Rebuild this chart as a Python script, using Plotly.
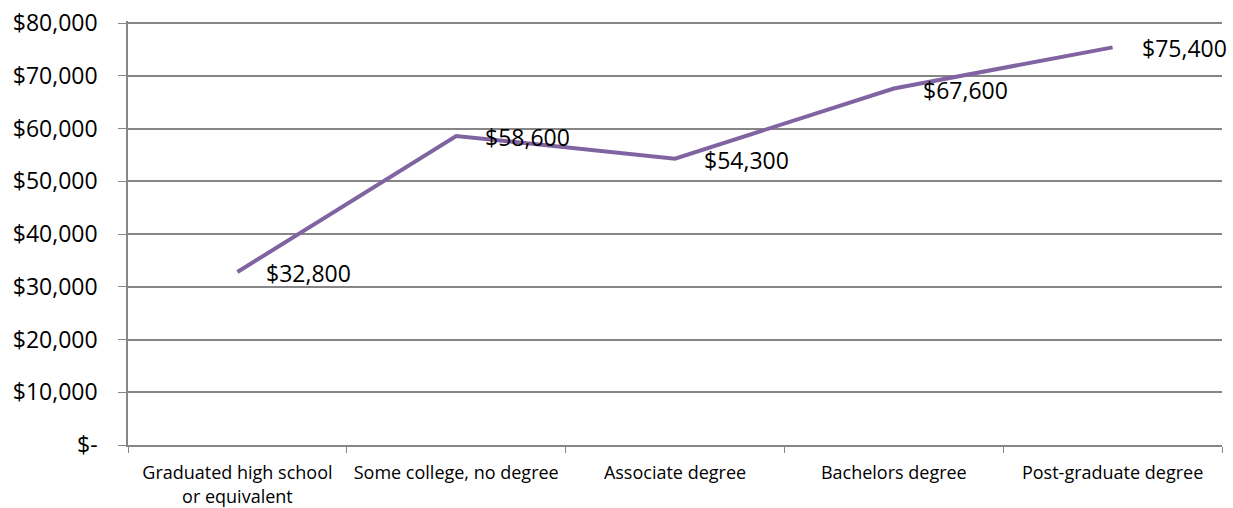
import plotly.graph_objects as go

categories = ["Graduated high school<br>or equivalent", "Some college, no degree",
              "Associate degree", "Bachelors degree", "Post-graduate degree"]
income = [32800, 58600, 54300, 67600, 75400]
label_text = ["$32,800", "$58,600", "$54,300", "$67,600", "$75,400"]
y_tickvals = [0, 10000, 20000, 30000, 40000, 50000, 60000, 70000, 80000]
y_ticktext = ["$-", "$10,000", "$20,000", "$30,000", "$40,000", "$50,000",
              "$60,000", "$70,000", "$80,000"]

FONT = "Open Sans"

fig = go.Figure()
fig.add_trace(go.Scatter(
    x=categories, y=income, mode="lines",
    line=dict(color="#8064A2", width=4),
    hoverinfo="skip", showlegend=False,
))

for c, v, t in zip(categories, income, label_text):
    fig.add_annotation(x=c, y=v, text=t, showarrow=False,
                       xanchor="left", yanchor="middle", xshift=27, yshift=-1,
                       font=dict(family=FONT, size=23, color="black"))

fig.update_layout(
    width=1233, height=508,
    margin=dict(l=128, r=11, t=21, b=63),
    paper_bgcolor="white", plot_bgcolor="white",
    font=dict(family=FONT, color="black"),
)
fig.update_xaxes(
    type="category", range=[-0.5, 4.5], automargin=False,
    showgrid=False, showline=True, linecolor="#868686", linewidth=1.5,
    ticks="outside", tickson="boundaries", ticklen=6, tickcolor="#868686",
    ticklabelstandoff=11,
    tickfont=dict(family=FONT, size=18, color="black"),
)
fig.update_yaxes(
    range=[0, 80400], tickvals=y_tickvals, ticktext=y_ticktext, automargin=False,
    showgrid=True, gridcolor="#868686", gridwidth=1.5,
    showline=True, linecolor="#868686", linewidth=1.5,
    ticks="outside", ticklen=8, tickcolor="#868686",
    ticklabelstandoff=16, ticklabeloverflow="allow",
    tickfont=dict(family=FONT, size=23, color="black"),
    zeroline=False,
)

fig.write_html("out.html", config={"displayModeBar": False},
               post_script="document.body.style.margin='0';")
